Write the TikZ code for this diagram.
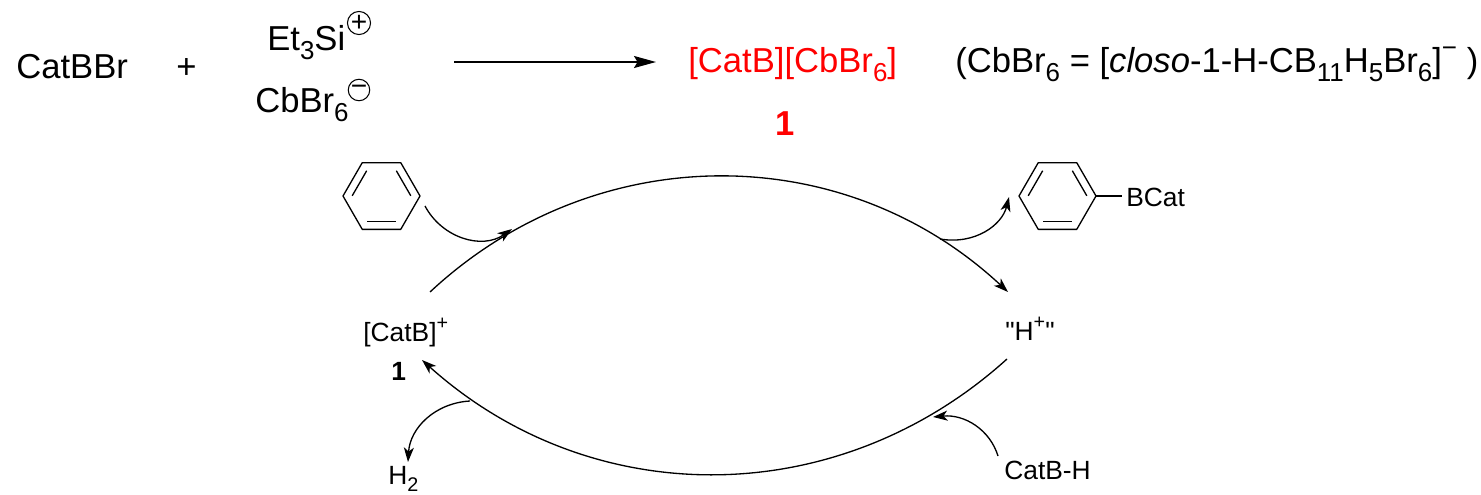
\documentclass[tikz,border=0pt]{standalone}
\usepackage{fontspec}
\setmainfont{Liberation Sans}
\newfontfamily\plainfont[Ligatures=ResetAll]{Liberation Sans}
\usetikzlibrary{calc,arrows.meta}
\newcommand\chemsub[1]{\raisebox{-0.27em}{\scalebox{0.75}{#1}}}
\newcommand\chemsup[1]{\raisebox{0.45em}{\scalebox{0.75}{#1}}}
\newcommand\benzring[2]{
  \coordinate (a) at ( #1, #2 );
  \draw[bondline] ($ (a) + (0:38.5) $) -- ($ (a) + (60:38.5) $) -- ($ (a) + (120:38.5) $) -- ($ (a) + (180:38.5) $) -- ($ (a) + (240:38.5) $) -- ($ (a) + (300:38.5) $) -- cycle;
  \foreach \n in {90,210,330}
    \draw[bondline] ($ (a) + (\n-29.6:29.3) $) -- ($ (a) + (\n+29.6:29.3) $);
}
\tikzset{
  bigtext/.style={anchor=base west,inner sep=0pt,font=\fontsize{19.7}{22}\selectfont},
  smalltext/.style={anchor=base west,inner sep=0pt,font=\fontsize{15}{18}\selectfont},
  chargemark/.style={circle,draw,line width=0.6pt,inner sep=0pt,minimum size=0.43cm,font=\fontsize{16}{16}\selectfont},
  bondline/.style={line width=0.75pt,line join=round},
  cycleline/.style={line width=0.75pt},
  curlyarrow/.style={line width=0.75pt,-{Stealth[length=0.29cm,width=0.2cm,inset=0.08cm]}},
  mainarrow/.style={line width=0.9pt,-{Stealth[length=0.44cm,width=0.24cm,inset=0.07cm]}}
}
\begin{document}
\begin{tikzpicture}[x=0.02cm,y=-0.02cm]
  \useasboundingbox (0,0) rectangle (1481,494);

  \node[bigtext] (catbbr) at (16,78) {CatBBr};
  \node[bigtext] (plus) at (176,78) {+};
  \node[bigtext] (etsi) at (267,50) {Et\chemsub{3}Si};
  \node[chargemark] (etcharge) at (359,23) {+};
  \node[bigtext] (cbbr) at (255,112) {CbBr\chemsub{6}};
  \node[chargemark] (cbcharge) at (359,90) {−};
  \coordinate (mainstart) at (454,62);
  \coordinate (mainend) at (656,62);
  \draw[mainarrow] (mainstart) -- (mainend);
  \node[bigtext,text=red] (salt) at (688,72) {[CatB][CbBr\chemsub{6}]};
  \node[bigtext,text=red,font=\fontsize{19.7}{22}\bfseries] (saltnum) at (775,135) {1};
  \node[bigtext] (legend) at (955,72) {(CbBr\chemsub{6} = [\textit{closo}-1-H-CB\chemsub{11}H\chemsub{5}Br\chemsub{6}]\chemsup{−} )};

  \benzring{381.5}{196}
  \benzring{1057.5}{196}
  \node[smalltext] (bcat) at (1126,206) {BCat};
  \coordinate (bondstart) at (1096,196);
  \coordinate (bondend) at (1122,196);
  \draw[bondline] (bondstart) -- (bondend);

  \node[smalltext] (catb) at (363,341) {[CatB]\chemsup{+}};
  \node[smalltext,font=\fontsize{15}{18}\bfseries] (catbnum) at (391,380) {1};
  \node[smalltext] (hplus) at (1005,340) {{\plainfont"}H\chemsup{+}{\plainfont"}};
  \node[smalltext] (htwo) at (388,484) {H\chemsub{2}};
  \node[smalltext] (catbh) at (1004,479) {CatB-H};

  \coordinate (topstart) at (430,292);
  \coordinate (topend) at (1008,292);
  \coordinate (botstart) at (1007,359);
  \coordinate (botend) at (422,360);
  \draw[cycleline,-{Stealth[length=0.29cm,width=0.2cm,inset=0.08cm]}] (topstart) to[bend left=43] (topend);
  \draw[cycleline,-{Stealth[length=0.29cm,width=0.2cm,inset=0.08cm]}] (botstart) to[bend left=42] (botend);

  \coordinate (inone) at (425,206);
  \coordinate (inonetip) at (512,229);
  \draw[curlyarrow] (inone) .. controls (442,238) and (482,250) .. (inonetip);
  \coordinate (outone) at (940,239);
  \coordinate (outonetip) at (1009,197);
  \draw[curlyarrow] (outone) .. controls (975,245) and (1002,225) .. (outonetip);
  \coordinate (outtwo) at (470,401);
  \coordinate (outtwotip) at (408,462);
  \draw[curlyarrow] (outtwo) .. controls (435,403) and (410,428) .. (outtwotip);
  \coordinate (intwo) at (998,456);
  \coordinate (intwotip) at (933,417);
  \draw[curlyarrow] (intwo) .. controls (990,430) and (965,414) .. (intwotip);
\end{tikzpicture}
\end{document}
